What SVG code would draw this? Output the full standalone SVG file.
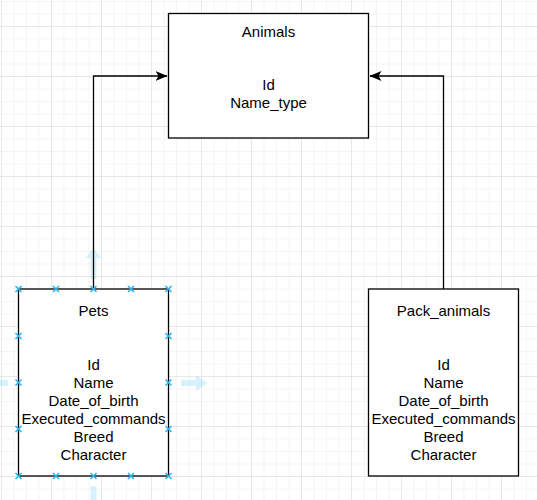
<svg xmlns="http://www.w3.org/2000/svg" width="537" height="500" viewBox="0 0 537 500">
<defs>
<style>
.box{fill:#fff;stroke:#000;stroke-width:1.3}
.t{font-family:"Liberation Sans",Arial,sans-serif;font-size:15px;fill:#000;text-anchor:middle}
.edge{fill:none;stroke:#000;stroke-width:1.3}
.h{stroke:#29b6f2;stroke-width:1.6;fill:none}
.hover{fill:#29b6f2;fill-opacity:0.18}
</style>
<pattern id="minor" x="1" y="1" width="12.5" height="12.5" patternUnits="userSpaceOnUse">
<path d="M12.5 0H0V12.5" fill="none" stroke="#ececec" stroke-width="1"/>
</pattern>
<pattern id="major" x="1" y="26" width="50" height="50" patternUnits="userSpaceOnUse">
<path d="M50 0H0V50" fill="none" stroke="#dcdcdc" stroke-width="1"/>
</pattern>
<marker id="arr" viewBox="0 0 12 10" refX="11.5" refY="5" markerWidth="12" markerHeight="10" markerUnits="userSpaceOnUse" orient="auto">
<path d="M0 0L12 5L0 10L3 5Z" fill="#000"/>
</marker>
<path id="hx" d="M-3 -3L3 3M-3 3L3 -3"/>
</defs>
<rect width="537" height="500" fill="#fff"/>
<rect width="537" height="500" fill="url(#minor)"/>
<rect width="537" height="500" fill="url(#major)"/>

<g id="hover-arrows">
<path class="hover" d="M90.5 279V258H85.5L93.5 248L101.5 258H96.5V279Z"/>
<path class="hover" d="M181 380H196V375L207.5 383L196 391V386H181Z"/>
<path class="hover" d="M0 380H8V386H0Z"/>
<path class="hover" d="M90.5 486H96.5V500H90.5Z"/>
</g>

<g id="connectors">
<path class="edge" d="M93.5 289V76H167" marker-end="url(#arr)"/>
<path class="edge" d="M443.5 289V76H370" marker-end="url(#arr)"/>
</g>

<g id="animals">
<rect class="box" x="168.5" y="13.5" width="200" height="124.5"/>
<text class="t" x="268.5" y="37">Animals</text>
<text class="t" x="268.5" y="90">Id</text>
<text class="t" x="268.5" y="108">Name_type</text>
</g>

<g id="pets">
<rect class="box" x="18.5" y="289" width="150" height="187"/>
<text class="t" x="93.5" y="316">Pets</text>
<text class="t" x="93.5" y="370">Id</text>
<text class="t" x="93.5" y="388">Name</text>
<text class="t" x="93.5" y="406">Date_of_birth</text>
<text class="t" x="93.5" y="424">Executed_commands</text>
<text class="t" x="93.5" y="442">Breed</text>
<text class="t" x="93.5" y="460">Character</text>
</g>

<g id="pack_animals">
<rect class="box" x="368.5" y="289" width="150" height="187"/>
<text class="t" x="443.5" y="316">Pack_animals</text>
<text class="t" x="443.5" y="370">Id</text>
<text class="t" x="443.5" y="388">Name</text>
<text class="t" x="443.5" y="406">Date_of_birth</text>
<text class="t" x="443.5" y="424">Executed_commands</text>
<text class="t" x="443.5" y="442">Breed</text>
<text class="t" x="443.5" y="460">Character</text>
</g>

<g id="selection-handles" class="h">
<use href="#hx" x="18.5" y="289"/><use href="#hx" x="56" y="289"/><use href="#hx" x="93.5" y="289"/><use href="#hx" x="131" y="289"/><use href="#hx" x="168.5" y="289"/>
<use href="#hx" x="18.5" y="476"/><use href="#hx" x="56" y="476"/><use href="#hx" x="93.5" y="476"/><use href="#hx" x="131" y="476"/><use href="#hx" x="168.5" y="476"/>
<use href="#hx" x="18.5" y="336"/><use href="#hx" x="18.5" y="382.5"/><use href="#hx" x="18.5" y="429"/>
<use href="#hx" x="168.5" y="336"/><use href="#hx" x="168.5" y="382.5"/><use href="#hx" x="168.5" y="429"/>
</g>
</svg>
